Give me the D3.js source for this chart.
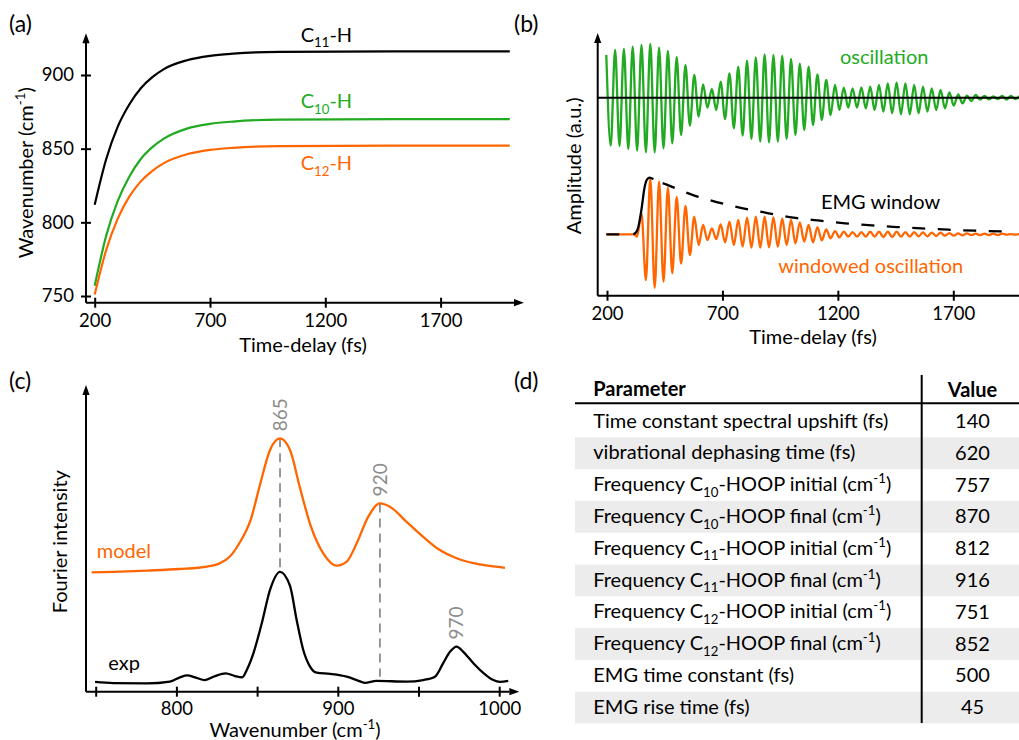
<!DOCTYPE html>
<html>
<head>
<meta charset="utf-8">
<script src="https://cdn.jsdelivr.net/npm/d3@7"></script>
<style>
  body { margin: 0; background: #fff; overflow: hidden; }
  text { font-family: Lato, "Open Sans", sans-serif; }
</style>
</head>
<body>
<script>
// ---------- data ----------

// (a) frequency upshift of the HOOP modes
var upTimes = [200, 250, 300, 350, 400, 450, 500, 600, 700, 800, 1000, 1500, 2000];
var c11 = [812, 843, 865, 880, 891, 898.5, 904, 910, 913, 914.5, 915.7, 916, 916];
var c10 = [757, 791, 814.6, 831, 843, 851, 856.8, 863.6, 866.8, 868.4, 869.7, 870, 870];
var c12 = [751, 781.3, 802.5, 817.4, 827.8, 835, 840.2, 846.2, 849.2, 850.6, 851.7, 852, 852];
var timeTicks = [200, 700, 1200, 1700];
var wnTicksA = [750, 800, 850, 900];

// (b) oscillation extrema (a.u.), one every half period
var oscT0 = 197, oscHalf = 19.05;
var greenExtrema = [
  1.28, -1.44, 1.43, -1.45, 1.46, -1.54, 1.53, -1.59, 1.58, -1.64,
  1.61, -1.64, 1.50, -1.52, 1.40, -1.37, 1.22, -1.12, 0.98, -0.84,
  0.68, -0.57, 0.40, -0.30, 0.26, -0.37, 0.48, -0.64, 0.73, -0.92,
  0.93, -1.14, 1.11, -1.24, 1.21, -1.32, 1.30, -1.34, 1.28, -1.32,
  1.26, -1.24, 1.16, -1.12, 1.02, -0.97, 0.93, -0.82, 0.70, -0.67,
  0.53, -0.52, 0.38, -0.37, 0.30, -0.30, 0.28, -0.30, 0.31, -0.32,
  0.33, -0.37, 0.38, -0.42, 0.43, -0.47, 0.45, -0.50, 0.43, -0.50,
  0.38, -0.47, 0.33, -0.42, 0.28, -0.37, 0.23, -0.32, 0.16, -0.24,
  0.10, -0.17, 0.06, -0.10, 0.08, -0.06, 0.05, -0.05, 0.04, -0.04,
  0.05, -0.06, 0.05, -0.04, 0.05
];
var orangeLeadT = [197, 318, 330];
var orangeLeadA = [0, 0, -0.07];
var orangeT0 = 349.4;
var orangeExtrema = [
  0.63, -1.37, 1.68, -1.60, 1.58, -1.42, 1.40, -1.17, 1.12, -0.88,
  0.85, -0.62, 0.53, -0.32, 0.28, -0.17, 0.18, -0.14, 0.30, -0.24,
  0.38, -0.32, 0.43, -0.37, 0.50, -0.40, 0.53, -0.40, 0.53, -0.39,
  0.51, -0.37, 0.48, -0.32, 0.43, -0.27, 0.36, -0.22, 0.28, -0.24,
  0.22, -0.18, 0.15, -0.12, 0.10, -0.09, 0.08, -0.07, 0.07, -0.07,
  0.07, -0.07, 0.08, -0.07, 0.08, -0.08, 0.08, -0.08, 0.08, -0.07,
  0.07, -0.07, 0.07, -0.06, 0.06, -0.06, 0.05, -0.05, 0.05, -0.04,
  0.04, -0.04, 0.03, -0.03, 0.03, -0.02, 0.02, -0.02, 0.02, -0.02,
  0.02, -0.02, 0.02, -0.01, 0.01, -0.01, 0.01
];
var emgT = [197, 310, 325, 336, 350, 362, 372, 384, 400, 437, 459, 567, 675, 784, 895, 1007, 1123, 1231, 1347, 1455, 1563, 1679, 1794, 1910, 1950];
var emgA = [0, 0, 0.05, 0.23, 0.78, 1.38, 1.63, 1.70, 1.66, 1.55, 1.49, 1.19, 0.97, 0.79, 0.64, 0.50, 0.41, 0.33, 0.27, 0.22, 0.18, 0.14, 0.11, 0.09, 0.08];
var orangeOffset = -4.1;

// (c) Fourier spectra (a.u.)
var modelWn = [747.5, 761, 782, 802, 819, 827, 833, 839, 846, 852, 858, 864.2, 870.4, 876.6, 883, 891, 899.3, 905.5, 911.7, 918.9, 926.1, 932.3, 942.6, 952.9, 963.2, 973.6, 984, 994.3, 1003.6];
var modelI = [38.9, 39.1, 39.5, 40.0, 40.8, 41.9, 44.0, 48.4, 56.0, 67.9, 78.8, 82.6, 78.8, 66.4, 54.4, 45.1, 41.1, 42.4, 48.4, 57.1, 61.4, 60.3, 55.4, 50.5, 46.2, 43.5, 41.9, 41.0, 40.4];
var expWn = [749.6, 760.9, 781.6, 796, 802.2, 806.8, 811.5, 817.7, 823.9, 830.5, 836.3, 840.8, 843.6, 847.7, 852.9, 858, 864.2, 870.4, 874.5, 878.6, 882.8, 886.9, 895.2, 905.5, 911.7, 916.8, 924, 942.6, 952.9, 960.2, 965.3, 969.5, 973.6, 977.7, 984, 990, 996.3, 1000.5, 1005.6];
var expI = [3.2, 2.8, 2.7, 3.3, 4.7, 5.3, 4.7, 3.8, 5.1, 6.0, 5.1, 4.7, 7.1, 12.5, 22.3, 33.2, 39.1, 34.5, 23.4, 13.6, 8.2, 6.2, 5.8, 4.9, 3.8, 2.9, 3.5, 3.3, 3.8, 4.9, 9.3, 13.0, 14.7, 13.0, 9.3, 6.2, 3.8, 3.2, 3.5];
var wnTicksC = [750, 800, 850, 900, 950, 1000];
var peakText = ["865", "920", "970"];
var peakWn = [864.2, 926.1, 973.6];
var peakTop = [82.6, 61.4, 14.7];
var peakBottom = [39.1, 4.9, null];

// (d) model parameters
var paramNames = [
  "Time constant spectral upshift (fs)",
  "vibrational dephasing time (fs)",
  "Frequency C_{10}-HOOP initial (cm^{-1})",
  "Frequency C_{10}-HOOP final (cm^{-1})",
  "Frequency C_{11}-HOOP initial (cm^{-1})",
  "Frequency C_{11}-HOOP final (cm^{-1})",
  "Frequency C_{12}-HOOP initial (cm^{-1})",
  "Frequency C_{12}-HOOP final (cm^{-1})",
  "EMG time constant (fs)",
  "EMG rise time (fs)"
];
var paramValues = [140, 620, 757, 870, 812, 916, 751, 852, 500, 45];

// ---------- drawing ----------
var green = "#22aa22", orange = "#ff6600", grey = "#8c8c8c";
var fs = 20, tickFs = 18.5;

var svg = d3.select("body").append("svg").attr("width", 1019).attr("height", 740);

// text with _{sub} and ^{sup} parts
function rich(text, str, size) {
  var cur = 0;
  str.split(/([_^]\{[^}]*\})/).forEach(function(p) {
    if (!p) return;
    var off = 0, s = size, t = p;
    if (p[0] === "_") { off = size * 0.28; s = size * 0.66; t = p.slice(2, -1); }
    else if (p[0] === "^") { off = -size * 0.4; s = size * 0.66; t = p.slice(2, -1); }
    text.append("tspan").attr("dy", off - cur).attr("font-size", s).text(t);
    cur = off;
  });
  return text;
}

function label(g, x, y, str, opts) {
  opts = opts || {};
  var t = g.append("text")
    .attr("x", x).attr("y", y)
    .attr("fill", opts.fill || "#000")
    .attr("font-weight", opts.bold ? "bold" : null)
    .attr("text-anchor", opts.anchor || "start");
  if (opts.rotate) t.attr("transform", "rotate(-90," + x + "," + y + ")");
  return rich(t, str, opts.size || fs);
}

function line(g, x1, y1, x2, y2) {
  g.append("line").attr("x1", x1).attr("y1", y1).attr("x2", x2).attr("y2", y2)
    .attr("stroke", "#000").attr("stroke-width", 2);
}

function arrowUp(g, x, y) {
  g.append("path").attr("d", "M" + x + "," + y + "l-3.6,10h7.2z").attr("fill", "#000");
}
function arrowRight(g, x, y) {
  g.append("path").attr("d", "M" + x + "," + y + "l-10,-3.6v7.2z").attr("fill", "#000");
}

function styleAxis(g, horiz, pos) {
  g.attr("font-size", tickFs);
  g.select(".domain").remove();
  g.selectAll(".tick line").attr("stroke", "#000").attr("stroke-width", 2);
  g.selectAll(".tick text").attr("fill", "#000");
  if (horiz) {
    g.selectAll(".tick line").attr("y1", -5).attr("y2", 5);
    g.selectAll(".tick text").attr("dy", null).attr("y", pos);
  } else {
    g.selectAll(".tick line").attr("x1", -5).attr("x2", 5);
    g.selectAll(".tick text").attr("x", pos);
  }
}

var plain = d3.format("d");

// ----- panel (a) -----
var gA = svg.append("g");
var xA = d3.scaleLinear().domain([200, 1700]).range([94.7, 440.6]);
var yA = d3.scaleLinear().domain([750, 900]).range([296, 75]);
var lineA = d3.line()
  .x(function(d, i) { return xA(upTimes[i]); })
  .y(function(d) { return yA(d); })
  .curve(d3.curveMonotoneX);

[[c11, "#000"], [c10, green], [c12, orange]].forEach(function(s) {
  gA.append("path").attr("d", lineA(s[0])).attr("fill", "none")
    .attr("stroke", s[1]).attr("stroke-width", 2.2);
});

line(gA, 86, 302.7, 514, 302.7);
arrowRight(gA, 524, 302.7);
line(gA, 86, 302.7, 86, 43);
arrowUp(gA, 86, 33.3);
gA.append("g").attr("transform", "translate(0,302.7)")
  .call(d3.axisBottom(xA).tickValues(timeTicks).tickFormat(plain))
  .call(styleAxis, true, 24);
gA.append("g").attr("transform", "translate(86,0)")
  .call(d3.axisLeft(yA).tickValues(wnTicksA).tickFormat(plain))
  .call(styleAxis, false, -12);

label(gA, 300.7, 41.7, "C_{11}-H");
label(gA, 300.7, 108.3, "C_{10}-H", {fill: green});
label(gA, 300.7, 170, "C_{12}-H", {fill: orange});
label(gA, 303, 351.5, "Time-delay (fs)", {anchor: "middle"});
label(gA, 33, 172.8, "Wavenumber (cm^{-1})", {anchor: "middle", rotate: true});
label(gA, 9, 32, "(a)", {size: 23});

// ----- panel (b) -----
var gB = svg.append("g");
var xB = d3.scaleLinear().domain([200, 1700]).range([607, 953.3]);
var yB = d3.scaleLinear().domain([-5.94, 1.94]).range([295.7, 33]);
var lineB = d3.line()
  .x(function(d) { return xB(d[0]); })
  .y(function(d) { return yB(d[1]); })
  .curve(d3.curveMonotoneX);

var greenPts = greenExtrema.map(function(a, k) { return [oscT0 + k * oscHalf, a]; });
var orangePts = orangeLeadT.map(function(t, i) { return [t, orangeOffset + orangeLeadA[i]]; })
  .concat(orangeExtrema.map(function(a, k) { return [orangeT0 + k * oscHalf, orangeOffset + a]; }));
var emgPts = emgT.map(function(t, i) { return [t, orangeOffset + emgA[i]]; });

gB.append("path").attr("d", lineB(greenPts)).attr("fill", "none")
  .attr("stroke", green).attr("stroke-width", 2.3);
line(gB, 597.7, yB(0), 1019, yB(0));
gB.append("path").attr("d", lineB(orangePts)).attr("fill", "none")
  .attr("stroke", orange).attr("stroke-width", 2.3);

var dash = [13, 14, 65, 10];
for (var i = 0; i < 40; i++) dash.push(13, 12.5);
gB.append("path").attr("d", lineB(emgPts)).attr("fill", "none")
  .attr("stroke", "#000").attr("stroke-width", 2.3)
  .attr("stroke-dasharray", dash.join(","));

line(gB, 597.7, 295.7, 1019, 295.7);
line(gB, 597.7, 295.7, 597.7, 43);
arrowUp(gB, 597.7, 33);
gB.append("g").attr("transform", "translate(0,295.7)")
  .call(d3.axisBottom(xB).tickValues(timeTicks).tickFormat(plain))
  .call(styleAxis, true, 24.5);

label(gB, 840, 64, "oscillation", {fill: green});
label(gB, 821, 209, "EMG window");
label(gB, 778.3, 272.5, "windowed oscillation", {fill: orange});
label(gB, 813, 344.4, "Time-delay (fs)", {anchor: "middle"});
label(gB, 581, 165.8, "Amplitude (a.u.)", {anchor: "middle", rotate: true});
label(gB, 514, 32, "(b)", {size: 23});

// ----- panel (c) -----
var gC = svg.append("g");
var xC = d3.scaleLinear().domain([750, 1000]).range([95.7, 499.2]);
var yC = d3.scaleLinear().domain([0, 100]).range([691.7, 385]);
var lineC = d3.line()
  .x(function(d) { return xC(d[0]); })
  .y(function(d) { return yC(d[1]); })
  .curve(d3.curveMonotoneX);

peakWn.forEach(function(wn, i) {
  if (peakBottom[i] !== null) {
    gC.append("line")
      .attr("x1", xC(wn)).attr("x2", xC(wn))
      .attr("y1", yC(peakTop[i])).attr("y2", yC(peakBottom[i]))
      .attr("stroke", grey).attr("stroke-width", 1.8).attr("stroke-dasharray", "9,6");
  }
  gC.append("text")
    .attr("transform", "translate(" + xC(wn) + "," + (yC(peakTop[i]) - 7) + ") rotate(-90)")
    .attr("dy", "0.36em").attr("font-size", 19).attr("fill", grey)
    .text(peakText[i]);
});

gC.append("path").attr("d", lineC(modelWn.map(function(w, i) { return [w, modelI[i]]; })))
  .attr("fill", "none").attr("stroke", orange).attr("stroke-width", 2.3);
gC.append("path").attr("d", lineC(expWn.map(function(w, i) { return [w, expI[i]]; })))
  .attr("fill", "none").attr("stroke", "#000").attr("stroke-width", 2.3);

line(gC, 86, 691.7, 509.3, 691.7);
arrowRight(gC, 519.3, 691.7);
line(gC, 86, 691.7, 86, 395);
arrowUp(gC, 86, 385);
gC.append("g").attr("transform", "translate(0,691.7)")
  .call(d3.axisBottom(xC).tickValues(wnTicksC).tickFormat(function(d) { return d % 100 === 0 ? d : ""; }))
  .call(styleAxis, true, 23.3);

label(gC, 96.7, 558, "model", {fill: orange});
label(gC, 108.3, 670, "exp");
label(gC, 295, 737, "Wavenumber (cm^{-1})", {anchor: "middle"});
label(gC, 67, 541.7, "Fourier intensity", {anchor: "middle", rotate: true});
label(gC, 9, 389, "(c)", {size: 23});

// ----- panel (d) -----
var gD = svg.append("g");
var rowY = d3.scaleBand().domain(d3.range(paramNames.length)).range([405.5, 723.5]);

gD.selectAll("rect.stripe")
  .data(d3.range(paramNames.length).filter(function(i) { return i % 2 === 1; }))
  .enter().append("rect")
  .attr("class", "stripe")
  .attr("x", 575).attr("width", 444)
  .attr("y", function(i) { return rowY(i); })
  .attr("height", rowY.bandwidth())
  .attr("fill", "#ececec");

paramNames.forEach(function(name, i) {
  label(gD, 593.3, rowY(i) + 22, name);
  label(gD, 972.5, rowY(i) + 22.5, String(paramValues[i]), {anchor: "middle"});
});

label(gD, 593.3, 396, "Parameter", {bold: true});
label(gD, 972.5, 397, "Value", {anchor: "middle", bold: true});
line(gD, 575, 403.3, 1019, 403.3);
line(gD, 921.7, 375, 921.7, 723);
label(gD, 514, 389, "(d)", {size: 23});
</script>
</body>
</html>
